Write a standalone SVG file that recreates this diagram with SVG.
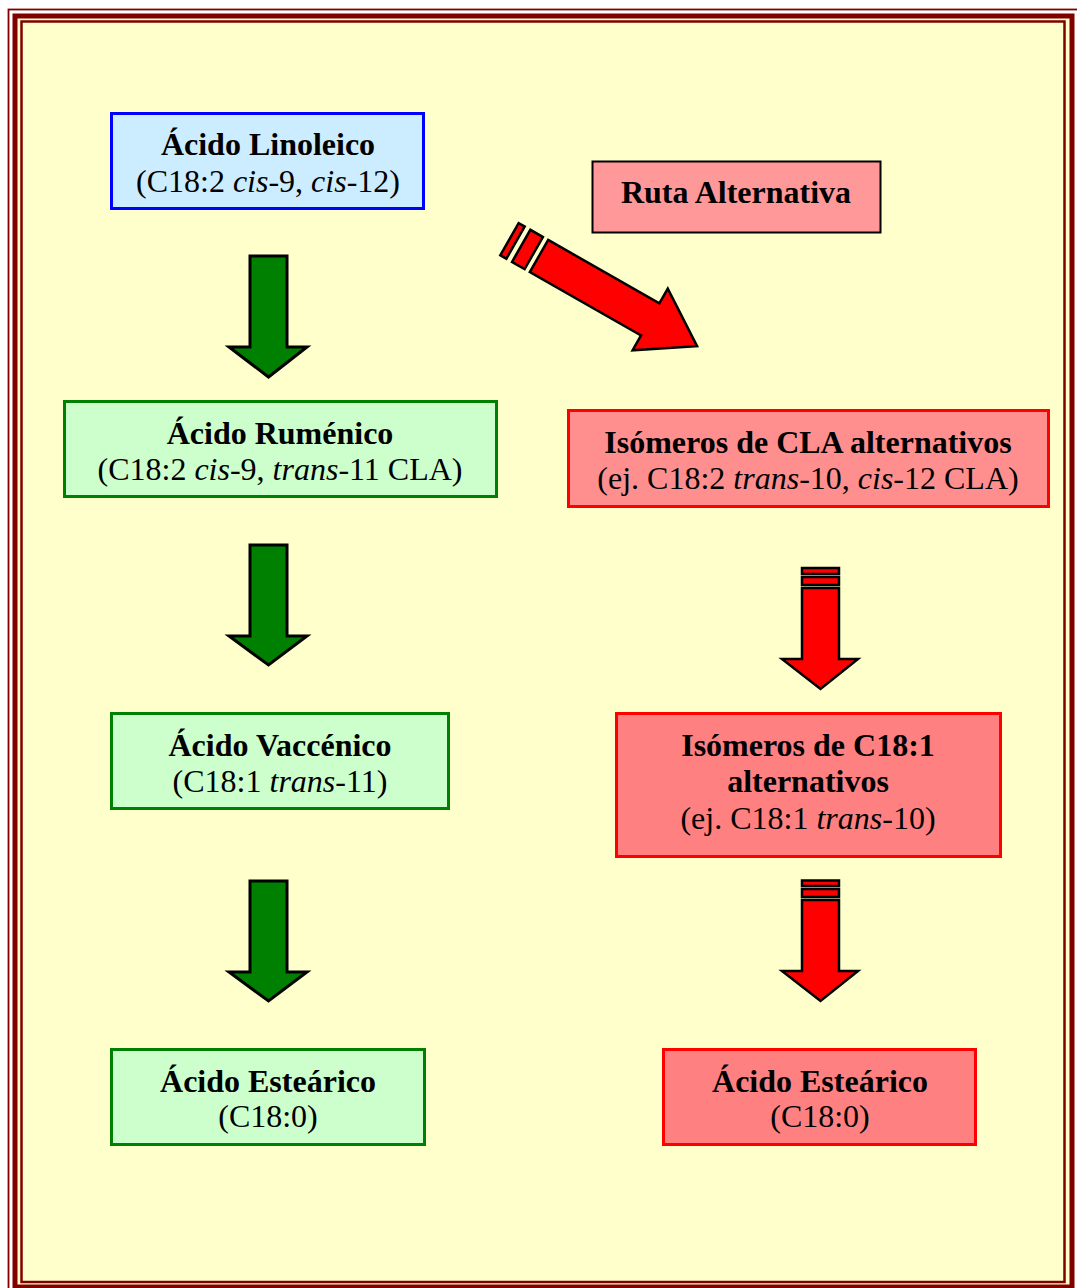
<svg xmlns="http://www.w3.org/2000/svg" width="1077" height="1288" viewBox="0 0 1077 1288">
<style>
.t{font-family:"Liberation Serif","Times New Roman",serif;font-size:32px;fill:#000;text-anchor:middle}
.b{font-weight:bold}
.box{stroke-width:3}
.ga{fill:#008000;stroke:#000;stroke-width:3;stroke-linejoin:miter}
.ra{fill:#FF0000;stroke:#000;stroke-width:2.5;stroke-linejoin:miter}
.frame{fill:none;stroke:#800000}
</style>
<rect x="0" y="0" width="1077" height="1288" fill="#FFFFFF"/>
<g id="frame">
<rect x="15" y="16" width="1057" height="1271" fill="#FFFFCC"/>
<rect class="frame" x="8.5" y="9.5" width="1080" height="1290" stroke-width="1.8"/>
<rect class="frame" x="15" y="16" width="1057" height="1271" stroke-width="5"/>
<rect class="frame" x="21.5" y="21.5" width="1043" height="1260.5" stroke-width="2.5"/>
</g>
<g id="connectors">
<polygon class="ga" points="250,256 287,256 287,347 307,347 268.5,377 229,347 250,347"/>
<polygon class="ga" points="250,545 287,545 287,636 307,636 268.5,665 229,636 250,636"/>
<polygon class="ga" points="250,881 287,881 287,972 307,972 268.5,1001 229,972 250,972"/>
<g transform="translate(539,256) rotate(29.7)">
<rect class="ra" x="-34" y="-18.5" width="7" height="37"/>
<rect class="ra" x="-20.5" y="-18.5" width="14.5" height="37"/>
<polygon class="ra" points="0,-18.5 128,-18.5 128,-35.5 182,0 128,35.5 128,18.5 0,18.5"/>
</g>
<rect class="ra" x="802" y="568" width="37" height="6"/>
<rect class="ra" x="802" y="577" width="37" height="8"/>
<polygon class="ra" points="802,588 839,588 839,659 858,659 820.5,689 782,659 802,659"/>
<rect class="ra" x="802" y="880.5" width="37" height="5.5"/>
<rect class="ra" x="802" y="889" width="37" height="8"/>
<polygon class="ra" points="802,900 839,900 839,971 858,971 820.5,1001 782,971 802,971"/>
</g>
<g id="linoleico">
<rect class="box" x="111.5" y="113.5" width="312" height="95" fill="#CCECFF" stroke="#0000FF"/>
<text class="t b" x="268" y="155">Ácido Linoleico</text>
<text class="t" x="268" y="192">(C18:2 <tspan font-style="italic">cis</tspan>-9, <tspan font-style="italic">cis</tspan>-12)</text>
</g>
<g id="ruta">
<rect x="592.5" y="161.5" width="288" height="71" fill="#FF9999" stroke="#000" stroke-width="2"/>
<text class="t b" x="736" y="203">Ruta Alternativa</text>
</g>
<g id="rumenico">
<rect class="box" x="64.5" y="401.5" width="432" height="95" fill="#CCFFCC" stroke="#008000"/>
<text class="t b" x="280" y="444">Ácido Ruménico</text>
<text class="t" x="280" y="480">(C18:2 <tspan font-style="italic">cis</tspan>-9, <tspan font-style="italic">trans</tspan>-11 CLA)</text>
</g>
<g id="cla">
<rect class="box" x="568.5" y="410.5" width="480" height="96" fill="#FF8F8F" stroke="#FF0000"/>
<text class="t b" x="808" y="453">Isómeros de CLA alternativos</text>
<text class="t" x="808" y="489">(ej. C18:2 <tspan font-style="italic">trans</tspan>-10, <tspan font-style="italic">cis</tspan>-12 CLA)</text>
</g>
<g id="vaccenico">
<rect class="box" x="111.5" y="713.5" width="337" height="95" fill="#CCFFCC" stroke="#008000"/>
<text class="t b" x="280" y="756">Ácido Vaccénico</text>
<text class="t" x="280" y="792">(C18:1 <tspan font-style="italic">trans</tspan>-11)</text>
</g>
<g id="c181">
<rect class="box" x="616.5" y="713.5" width="384" height="143" fill="#FF8080" stroke="#FF0000"/>
<text class="t b" x="808" y="756">Isómeros de C18:1</text>
<text class="t b" x="808" y="792">alternativos</text>
<text class="t" x="808" y="829">(ej. C18:1 <tspan font-style="italic">trans</tspan>-10)</text>
</g>
<g id="estearico-verde">
<rect class="box" x="111.5" y="1049.5" width="313" height="95" fill="#CCFFCC" stroke="#008000"/>
<text class="t b" x="268" y="1092">Ácido Esteárico</text>
<text class="t" x="268" y="1127">(C18:0)</text>
</g>
<g id="estearico-rojo">
<rect class="box" x="663.5" y="1049.5" width="312" height="95" fill="#FF8080" stroke="#FF0000"/>
<text class="t b" x="820" y="1092">Ácido Esteárico</text>
<text class="t" x="820" y="1127">(C18:0)</text>
</g>
</svg>
